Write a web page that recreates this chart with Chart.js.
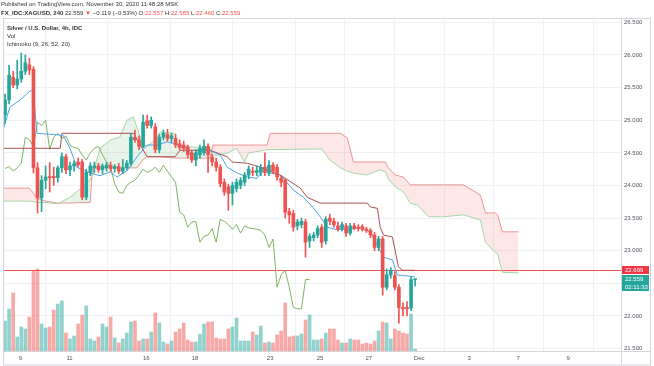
<!DOCTYPE html>
<html>
<head>
<meta charset="utf-8">
<script src="https://cdn.jsdelivr.net/npm/chart.js@4.4.1/dist/chart.umd.min.js"></script>
<style>
  html, body { margin: 0; padding: 0; background: #fff; }
  #wrap { position: relative; width: 654px; height: 366px; font-family: "Liberation Sans", Arial, sans-serif; color: #333; }
  #chart { position: absolute; left: 0; top: 0; }
  .txt { position: absolute; font-size: 6px; line-height: 8px; white-space: nowrap; }
  .red { color: #ef5350; }
</style>
</head>
<body>
<div id="wrap">
  <canvas id="chart" width="654" height="366"></canvas>
  <div class="txt" style="left:1px;top:0px">Published on TradingView.com, November 30, 2020 11:48:28 MSK</div>
  <div class="txt" style="left:1px;top:9px"><b>FX_IDC:XAGUSD, 240</b> 22.559 <span class="red">▼</span> −0.119 (−0.53%) O:<span class="red">22.557</span> H:<span class="red">22.565</span> L:<span class="red">22.460</span> C:<span class="red">22.559</span></div>
  <div class="txt" style="left:7px;top:24px"><b>Silver / U.S. Dollar, 4h, IDC</b></div>
  <div class="txt" style="left:7px;top:32px">Vol</div>
  <div class="txt" style="left:7px;top:40px">Ichimoku (9, 26, 52, 20)</div>
</div>
<script>
// 4h candles, Nov 9 -> Nov 30 2020
const open = [25.08,25.31,25.66,25.54,25.63,25.75,25.85,25.78,24.27,23.81,
  24.08,24.13,24.14,24.12,24.27,24.44,24.24,24.30,24.36,24.36,
  23.82,24.20,24.27,24.30,24.24,24.27,24.31,24.26,24.29,24.22,
  24.27,24.34,24.74,24.70,24.60,24.99,24.92,24.90,24.55,24.74,
  24.78,24.72,24.72,24.64,24.62,24.59,24.50,24.39,24.47,24.50,
  24.60,24.43,24.36,24.28,24.05,23.98,23.88,23.95,24.00,24.05,
  24.16,24.22,24.20,24.20,24.28,24.19,24.31,24.28,24.11,24.08,
  23.60,23.57,23.38,23.40,23.44,23.15,23.20,23.24,23.36,23.15,
  23.50,23.45,23.38,23.34,23.38,23.27,23.38,23.36,23.37,23.33,
  23.31,23.24,23.05,23.18,22.44,22.63,22.62,22.44,22.13,22.13,
  22.12,22.557]
const high = [25.40,25.84,25.75,25.92,26.03,26.00,25.95,25.82,24.35,24.15,
  24.30,24.35,24.28,24.30,24.50,24.48,24.36,24.38,24.42,24.40,
  24.25,24.35,24.36,24.34,24.33,24.35,24.36,24.32,24.34,24.40,
  24.38,24.80,24.85,24.76,25.08,25.08,25.05,24.95,24.78,24.85,
  24.86,24.80,24.78,24.70,24.68,24.62,24.54,24.55,24.62,24.70,
  24.64,24.48,24.42,24.32,24.10,24.02,24.05,24.10,24.12,24.20,
  24.30,24.28,24.30,24.32,24.50,24.38,24.35,24.32,24.15,24.10,
  23.65,23.62,23.48,23.50,23.48,23.26,23.28,23.38,23.40,23.52,
  23.56,23.50,23.44,23.44,23.42,23.42,23.42,23.40,23.40,23.36,
  23.34,23.28,23.22,23.22,22.72,22.74,22.68,22.48,22.20,22.22,
  22.60,22.565]
const low = [24.95,25.25,25.50,25.48,25.58,25.70,25.70,24.19,23.58,23.60,
  23.95,23.90,24.00,24.05,24.20,24.18,24.15,24.22,24.28,23.78,
  23.78,24.15,24.20,24.20,24.18,24.22,24.22,24.20,24.18,24.18,
  24.24,24.30,24.66,24.55,24.58,24.88,24.88,24.50,24.50,24.70,
  24.68,24.66,24.58,24.55,24.52,24.42,24.35,24.30,24.42,24.46,
  24.20,24.30,24.22,23.98,23.85,23.62,23.70,23.90,23.95,24.00,
  24.10,24.15,24.15,24.15,24.15,24.15,24.18,24.08,23.98,23.50,
  23.42,23.30,23.32,23.35,22.90,23.05,23.15,23.20,23.05,23.10,
  23.40,23.36,23.30,23.30,23.22,23.24,23.32,23.30,23.30,23.28,
  23.20,23.00,23.00,22.32,22.40,22.58,22.40,21.89,22.00,22.00,
  22.08,22.46]
const close = [25.31,25.69,25.54,25.63,25.75,25.88,25.77,24.27,23.81,24.08,
  24.13,24.12,24.12,24.27,24.44,24.24,24.30,24.33,24.32,23.82,
  24.20,24.30,24.30,24.24,24.30,24.31,24.26,24.29,24.22,24.27,
  24.34,24.74,24.70,24.60,24.97,24.92,25.00,24.55,24.74,24.80,
  24.72,24.76,24.62,24.58,24.57,24.47,24.39,24.50,24.57,24.60,
  24.47,24.36,24.28,24.03,23.90,23.88,24.00,24.05,24.08,24.16,
  24.25,24.20,24.23,24.28,24.20,24.31,24.22,24.13,24.05,23.59,
  23.55,23.36,23.44,23.45,23.13,23.22,23.24,23.34,23.13,23.48,
  23.45,23.40,23.33,23.40,23.27,23.38,23.35,23.34,23.33,23.31,
  23.24,23.05,23.18,22.44,22.63,22.70,22.44,22.13,22.11,22.11,
  22.557,22.559]
const volume = [30,42,58,14,24,22,34,80,82,27,
  23,24,41,47,50,18,12,15,27,36,
  45,12,10,14,27,24,34,13,8,12,
  18,29,30,10,12,12,19,38,28,9,
  7,10,19,22,28,11,9,9,17,27,
  29,29,13,12,12,22,24,33,10,10,
  10,19,16,25,8,9,8,16,20,48,
  14,15,15,17,31,36,11,11,12,18,
  22,22,11,8,8,12,11,11,7,8,
  7,10,20,29,28,12,22,20,18,17,
  37,2]

// Ichimoku lines (bar index, price)
const tenkanX = [-0.5,1.2,3.7,6.2,6.9,7.9,14.3,16.0,17.7,21.0,23.4,25.9,27.6,30.3,32.5,35.0,37.5,39.9,43.9,46.3,48.8,51.3,53.0,54.7,57.2,59.7,62.1,63.6,65.3,67.8,69.5,71.0,73.5,75.9,77.6,79.4,81.8,87.5,90.0,93.2,95.4,96.6,101]
const tenkanY = [24.85,25.20,25.31,25.45,25.45,24.80,24.77,24.57,24.28,24.19,24.15,24.21,24.13,24.24,24.44,24.62,24.62,24.67,24.60,24.47,24.57,24.51,24.47,24.28,24.19,24.13,24.11,24.27,24.19,24.16,24.04,23.93,23.82,23.66,23.52,23.36,23.32,23.35,23.29,22.90,22.86,22.63,22.60]
const kijunX = [-0.5,13.6,14.0,31.6,35.0,41.9,43.1,50.5,54.7,56.0,59.7,62.9,67.8,72.7,74.4,77.6,89.2,90.0,91.7,92.4,93.2,95.4,96.9,97.9,101]
const kijunY = [24.57,24.57,24.80,24.80,24.44,24.44,24.54,24.54,24.44,24.36,24.34,24.28,24.16,23.96,23.82,23.73,23.73,23.67,23.65,23.36,23.24,23.21,22.75,22.70,22.70]
const cloudX = [-0.5,6,8,10,13,16,19,21,21.5,23.4,26,28.3,30,31.6,32.5,34,35,37,38.2,41.9,42.5,50.5,51.2,55,57,59,60,63,64.5,65.3,78,80,82.6,84.3,85.8,89,92.4,93.7,94.4,96.1,98.1,99.8,101.6,104.3,108,112.9,117.1,118.3,120.8,121.3,122.5,126.5]
const spanA = [23.76,23.76,23.74,23.74,23.72,23.82,23.97,24.10,24.15,24.57,
  24.70,24.74,25.00,25.05,24.89,24.62,24.60,24.70,24.82,24.80,
  24.60,24.58,24.45,24.50,24.57,24.36,24.50,24.53,24.55,24.55,
  24.56,24.39,24.27,24.22,24.19,24.16,24.24,24.21,24.10,23.98,
  23.90,23.73,23.70,23.52,23.52,23.55,23.47,23.13,22.97,22.95,
  22.67,22.66]
const spanB = [23.96,23.96,23.80,23.76,23.73,23.73,23.74,23.74,24.27,24.27,
  24.27,24.27,24.27,24.27,24.27,24.40,24.44,24.44,24.44,24.42,
  24.42,24.42,24.62,24.62,24.62,24.62,24.62,24.62,24.62,24.80,
  24.80,24.80,24.80,24.73,24.36,24.36,24.36,24.36,24.27,24.16,
  24.13,24.01,24.01,24.01,24.01,24.01,23.85,23.58,23.58,23.55,
  23.29,23.29]
const laggingShift = 26

const prevClose = 22.699
const countdown = '02:11:33'

const dayTicks = [3.8, 15.9, 34.8, 46.8, 65.3, 77.6, 89.6, 102, 114.3, 126.4, 138.7]
const dayLabels = ['9', '11', '16', '18', '23', '25', '27', 'Dec', '3', '7', '9']
const priceTicks = [21.5, 22, 22.5, 23, 23.5, 24, 24.5, 25, 25.5, 26, 26.5]

const UP = '#26a69a'
const DOWN = '#ef5350'
const isUp = close.map((c, i) => c >= open[i])

const pts = (xs, ys) => xs.map((x, i) => ({x: x, y: ys[i]}))

const overlay = {
  id: 'overlay',
  beforeDatasetsDraw(chart) {
    const {ctx, chartArea: a, scales: {y}} = chart
    const py = Math.round(y.getPixelForValue(prevClose)) + 0.5
    ctx.save()
    ctx.strokeStyle = '#ef5350'
    ctx.lineWidth = 1
    ctx.beginPath()
    ctx.moveTo(a.left, py)
    ctx.lineTo(a.right, py)
    ctx.stroke()
    ctx.restore()
  },
  afterDraw(chart) {
    const {ctx, chartArea: a, scales: {y}} = chart
    ctx.save()
    // pane frame
    ctx.strokeStyle = '#d4d6dc'
    ctx.lineWidth = 1
    ctx.strokeRect(3.5, a.top + 0.5, 647, 364.5 - a.top)
    ctx.beginPath()
    ctx.moveTo(a.right + 0.5, a.top)
    ctx.lineTo(a.right + 0.5, 365)
    ctx.moveTo(3, a.bottom + 0.5)
    ctx.lineTo(651, a.bottom + 0.5)
    ctx.stroke()

    // price tags
    ctx.font = '6px "Liberation Sans", Arial'
    ctx.textBaseline = 'middle'
    ctx.textAlign = 'left'
    const tag = (py, text, bg) => {
      ctx.fillStyle = bg
      ctx.fillRect(a.right + 1, py - 4, 27, 8)
      ctx.fillStyle = '#fff'
      ctx.fillText(text, a.right + 4, py + 0.5)
    }
    const last = close[close.length - 1]
    const pLast = Math.round(y.getPixelForValue(last))
    tag(Math.round(y.getPixelForValue(prevClose)), prevClose.toFixed(3), '#f23645')
    tag(pLast, last.toFixed(3), UP)
    tag(pLast + 8, countdown, UP)
    ctx.restore()
  }
}

const ctx = document.getElementById('chart')

const chart = new Chart(ctx, {
  type: 'line',
  data: {
    datasets: [
      {
        type: 'bar',
        data: open.map((o, i) => ({x: i, y: [o, close[i]]})),
        backgroundColor: isUp.map(u => u ? UP : DOWN),
        barThickness: 3,
        minBarLength: 1,
        grouped: false,
        order: 0
      },
      {
        type: 'bar',
        data: low.map((l, i) => ({x: i, y: [l, high[i]]})),
        backgroundColor: isUp.map(u => u ? UP : DOWN),
        barThickness: 1,
        grouped: false,
        order: 1
      },
      {
        data: pts(tenkanX, tenkanY),
        borderColor: '#4ea3ee',
        borderWidth: 1,
        pointRadius: 0,
        order: 2
      },
      {
        data: pts(kijunX, kijunY),
        borderColor: '#a8504f',
        borderWidth: 1,
        pointRadius: 0,
        order: 2
      },
      {
        data: close.slice(laggingShift).map((c, i) => ({x: i, y: c})),
        borderColor: '#7fb363',
        borderWidth: 1,
        pointRadius: 0,
        order: 3
      },
      {
        type: 'bar',
        yAxisID: 'vol',
        data: volume.map((v, i) => ({x: i, y: v})),
        backgroundColor: isUp.map(u => u ? 'rgba(38,166,154,0.5)' : 'rgba(239,83,80,0.5)'),
        barThickness: 3,
        grouped: false,
        order: 4
      },
      {
        data: pts(cloudX, spanA),
        borderColor: '#a5d6a7',
        borderWidth: 1,
        pointRadius: 0,
        fill: {target: '+1', above: 'rgba(67,160,71,0.12)', below: 'rgba(244,67,54,0.12)'},
        order: 5
      },
      {
        data: pts(cloudX, spanB),
        borderColor: '#ef9a9a',
        borderWidth: 1,
        pointRadius: 0,
        order: 5
      }
    ]
  },
  options: {
    responsive: false,
    animation: false,
    devicePixelRatio: 1,
    layout: { padding: { top: 18, left: 3, right: 0, bottom: 0 } },
    plugins: { legend: { display: false }, tooltip: { enabled: false } },
    scales: {
      x: {
        type: 'linear',
        min: -0.5,
        max: 151.7,
        offset: false,
        afterBuildTicks: s => { s.ticks = dayTicks.map(v => ({value: v})) },
        afterFit: s => { s.height = 15 },
        ticks: {
          callback: (v, i) => dayLabels[i],
          autoSkip: false,
          maxRotation: 0,
          padding: 4,
          color: '#50535e',
          font: { family: '"Liberation Sans", Arial', size: 6 }
        },
        grid: { color: '#f0f1f4', drawTicks: false },
        border: { display: false }
      },
      y: {
        position: 'right',
        min: 21.463,
        max: 26.567,
        afterBuildTicks: s => { s.ticks = priceTicks.map(v => ({value: v})) },
        afterFit: s => { s.width = 33 },
        ticks: {
          callback: v => v.toFixed(3),
          padding: 3,
          color: '#50535e',
          font: { family: '"Liberation Sans", Arial', size: 6 }
        },
        grid: { color: '#f0f1f4', drawTicks: false },
        border: { display: false }
      },
      vol: {
        display: false,
        min: 0,
        max: 333
      }
    }
  },
  plugins: [overlay]
})
</script>
</body>
</html>
